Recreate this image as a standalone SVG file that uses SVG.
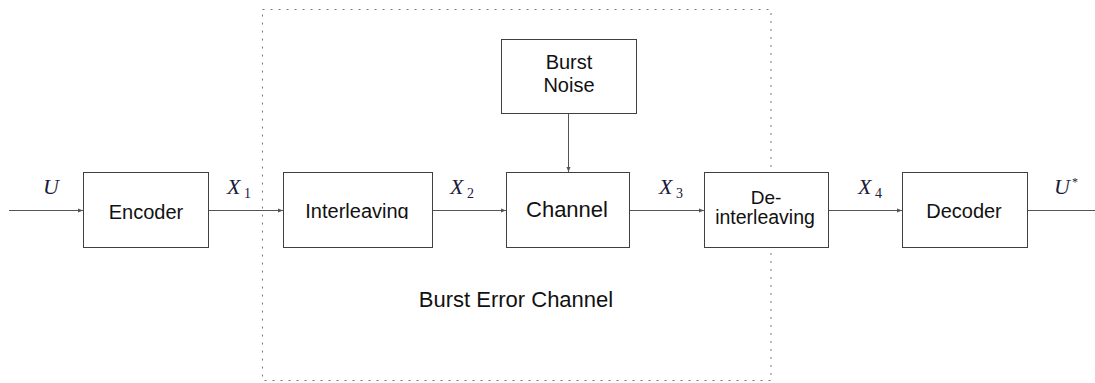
<svg xmlns="http://www.w3.org/2000/svg" width="1095" height="383" viewBox="0 0 1095 383">
<style>
.box{fill:#fff;stroke:#404040;stroke-width:1}
.lbl{font-family:"Liberation Sans",Arial,sans-serif;font-size:20px;fill:#111;text-anchor:middle}
.math{font-family:"Liberation Serif","Times New Roman",serif;font-style:italic;font-size:22px;fill:#1a1a3a}
.sub{font-family:"Liberation Serif","Times New Roman",serif;font-size:14px;fill:#1a1a3a}
.conn{stroke:#555;stroke-width:1;fill:none}
</style>
<defs>
<marker id="arr" markerUnits="userSpaceOnUse" markerWidth="6" markerHeight="6" refX="5" refY="2.5" orient="auto">
<path d="M0,0.5 L5,2.5 L0,4.5 z" fill="#555"/>
</marker>
<clipPath id="clipInt"><rect x="283" y="172" width="149" height="47"/></clipPath>
</defs>
<rect x="262.5" y="9.5" width="508.5" height="371" fill="none" stroke="#777" stroke-width="1" stroke-dasharray="2 6"/>
<text class="lbl" x="516" y="307" style="font-size:22px">Burst Error Channel</text>
<g id="connectors">
<line class="conn" x1="9" y1="210.5" x2="83" y2="210.5" marker-end="url(#arr)"/>
<line class="conn" x1="208" y1="210.5" x2="283" y2="210.5" marker-end="url(#arr)"/>
<line class="conn" x1="432" y1="210.5" x2="506" y2="210.5" marker-end="url(#arr)"/>
<line class="conn" x1="629" y1="210.5" x2="704" y2="210.5" marker-end="url(#arr)"/>
<line class="conn" x1="828" y1="210.5" x2="902" y2="210.5" marker-end="url(#arr)"/>
<line class="conn" x1="1027" y1="210.5" x2="1095" y2="210.5"/>
<line class="conn" x1="568.5" y1="113" x2="568.5" y2="172" marker-end="url(#arr)"/>
</g>
<g id="encoder">
<rect class="box" x="83.5" y="172.5" width="125" height="75"/>
<text class="lbl" x="146" y="219">Encoder</text>
</g>
<g id="interleaving">
<rect class="box" x="283.5" y="172.5" width="149" height="75"/>
<text class="lbl" x="357" y="218" clip-path="url(#clipInt)">Interleaving</text>
</g>
<g id="burst-noise">
<rect class="box" x="501.5" y="39.5" width="135" height="74"/>
<text class="lbl" x="569" y="69">Burst</text>
<text class="lbl" x="569" y="92">Noise</text>
</g>
<g id="channel">
<rect class="box" x="506.5" y="172.5" width="123" height="75"/>
<text class="lbl" x="567" y="217" style="font-size:22px">Channel</text>
</g>
<g id="deinterleaving">
<rect class="box" x="704.5" y="172.5" width="124" height="75"/>
<text class="lbl" x="766" y="204" style="font-size:19px">De-</text>
<text class="lbl" x="765" y="224" style="font-size:19.5px">interleaving</text>
</g>
<g id="decoder">
<rect class="box" x="902.5" y="172.5" width="125" height="75"/>
<text class="lbl" x="964" y="218">Decoder</text>
</g>
<g id="labels">
<text class="math" x="43" y="194">U</text>
<text class="math" x="227" y="194">X</text><text class="sub" x="244" y="198">1</text>
<text class="math" x="450" y="194">X</text><text class="sub" x="467" y="198">2</text>
<text class="math" x="659" y="194">X</text><text class="sub" x="676" y="198">3</text>
<text class="math" x="858" y="194">X</text><text class="sub" x="875" y="198">4</text>
<text class="math" x="1054" y="194">U</text><text class="sub" x="1072" y="186" style="font-size:12px">*</text>
</g>
</svg>
